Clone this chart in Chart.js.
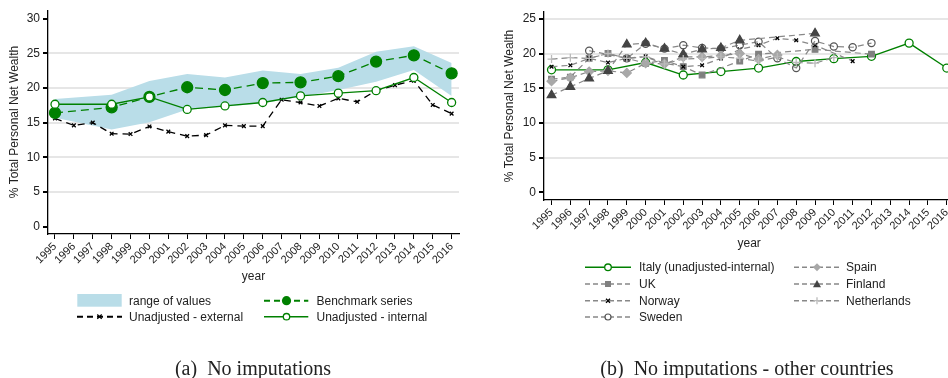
<!DOCTYPE html>
<html>
<head>
<meta charset="utf-8">
<script src="https://cdn.jsdelivr.net/npm/chart.js@4.4.1/dist/chart.umd.min.js"></script>
<style>
  html, body { margin: 0; padding: 0; background: #fff; }
  body { width: 948px; height: 378px; position: relative; overflow: hidden;
         font-family: "Liberation Sans", Arial, sans-serif; color: #222; }
  .box { position: absolute; }
  #left-box { left: 0; top: 0; width: 480px; height: 290px; }
  #right-box { left: 490px; top: 0; width: 480px; height: 260px; }
  svg { position: absolute; left: 0; top: 0; }
  .lg { position: absolute; font-size: 12px; line-height: 14px; white-space: nowrap; transform: translateY(-50%); }
  .cap { position: absolute; top: 356px; font-family: "Liberation Serif", "Times New Roman", serif;
         font-size: 20px; line-height: 24px; white-space: nowrap; transform: translateX(-50%); }
</style>
</head>
<body>
<div class="box" id="left-box"><canvas id="left-chart"></canvas></div>
<div class="box" id="right-box"><canvas id="right-chart"></canvas></div>

<svg width="948" height="378">
  <!-- left legend -->
  <rect x="77.3" y="294" width="44.4" height="12.7" fill="#b9dde8"/>
  <line x1="264" y1="300.7" x2="308.3" y2="300.7" stroke="#008000" stroke-width="2" stroke-dasharray="6 4"/>
  <circle cx="286.5" cy="300.7" r="4.6" fill="#008000"/>
  <line x1="77" y1="316.7" x2="122" y2="316.7" stroke="#000" stroke-width="2" stroke-dasharray="6 4"/>
  <path d="M97.3 314.5 L101.7 318.9 M101.7 314.5 L97.3 318.9" stroke="#000" stroke-width="1.3"/>
  <line x1="264" y1="316.7" x2="308.3" y2="316.7" stroke="#008000" stroke-width="1.5"/>
  <circle cx="286.5" cy="316.7" r="3.2" fill="#fff" stroke="#008000" stroke-width="1.3"/>
  <!-- right legend -->
  <line x1="585" y1="267.3" x2="631" y2="267.3" stroke="#008000" stroke-width="1.5"/>
  <circle cx="608" cy="267.3" r="3.3" fill="#fff" stroke="#008000" stroke-width="1.3"/>
  <line x1="585" y1="284" x2="631" y2="284" stroke="#888" stroke-width="1.5" stroke-dasharray="5 3"/>
  <rect x="605" y="281" width="6" height="6" fill="#808080"/>
  <line x1="585" y1="300.7" x2="631" y2="300.7" stroke="#888" stroke-width="1.5" stroke-dasharray="5 3"/>
  <path d="M606 298.7 L610 302.7 M610 298.7 L606 302.7" stroke="#000" stroke-width="1.3"/>
  <line x1="585" y1="317" x2="631" y2="317" stroke="#888" stroke-width="1.5" stroke-dasharray="5 3"/>
  <circle cx="608" cy="317" r="3" fill="#fff" stroke="#555" stroke-width="1.2"/>
  <line x1="794" y1="267.3" x2="840" y2="267.3" stroke="#888" stroke-width="1.5" stroke-dasharray="5 3"/>
  <path d="M817 263.3 L821 267.3 L817 271.3 L813 267.3 Z" fill="#a8a8a8"/>
  <line x1="794" y1="284" x2="840" y2="284" stroke="#888" stroke-width="1.5" stroke-dasharray="5 3"/>
  <path d="M817 280 L821 287.3 L813 287.3 Z" fill="#444"/>
  <line x1="794" y1="300.7" x2="840" y2="300.7" stroke="#888" stroke-width="1.5" stroke-dasharray="5 3"/>
  <path d="M817 297.2 L817 304.2 M813.5 300.7 L820.5 300.7" stroke="#bbb" stroke-width="1.3"/>
</svg>

<div class="lg" style="left:129px; top:300.7px">range of values</div>
<div class="lg" style="left:316.5px; top:300.7px">Benchmark series</div>
<div class="lg" style="left:129px; top:316.7px">Unadjusted - external</div>
<div class="lg" style="left:316.5px; top:316.7px">Unadjusted - internal</div>

<div class="lg" style="left:639px; top:267.3px">Italy (unadjusted-internal)</div>
<div class="lg" style="left:639px; top:284px">UK</div>
<div class="lg" style="left:639px; top:300.7px">Norway</div>
<div class="lg" style="left:639px; top:317px">Sweden</div>
<div class="lg" style="left:846px; top:267.3px">Spain</div>
<div class="lg" style="left:846px; top:284px">Finland</div>
<div class="lg" style="left:846px; top:300.7px">Netherlands</div>

<div class="cap" style="left:253px">(a)&nbsp;&nbsp;No imputations</div>
<div class="cap" style="left:747px">(b)&nbsp;&nbsp;No imputations - other countries</div>

<script>
  // years on the x axis
  const years = [1995, 1996, 1997, 1998, 1999, 2000, 2001, 2002, 2003, 2004, 2005,
                 2006, 2007, 2008, 2009, 2010, 2011, 2012, 2013, 2014, 2015, 2016];
  const yTicksLeft = [0, 5, 10, 15, 20, 25, 30];
  const yTicksRight = [0, 5, 10, 15, 20, 25];

  // panel (a)
  const benchYears = [1995, 1998, 2000, 2002, 2004, 2006, 2008, 2010, 2012, 2014, 2016];
  const benchmark = [16.4, 17.2, 18.7, 20.1, 19.7, 20.7, 20.8, 21.7, 23.8, 24.7, 22.1];
  const internal = [17.65, 17.65, 18.7, 16.9, 17.4, 17.9, 18.85, 19.25, 19.6, 21.5, 17.9];
  const rangeLow = [15.7, 14.0, 15.05, 16.9, 17.3, 17.8, 18.7, 19.7, 20.9, 22.6, 18.85];
  const rangeHigh = [18.4, 19.0, 21.0, 22.0, 21.5, 22.5, 22.0, 22.9, 25.2, 26.0, 23.6];
  const external = [15.6, 14.6, 15.0, 13.4, 13.35, 14.45, 13.7, 13.05, 13.2, 14.6, 14.5,
                    14.5, 18.3, 17.9, 17.4, 18.5, 18.0, 19.6, 20.4, 21.05, 17.55, 16.3];

  // panel (b), one value per year, null = no data
  const uk = [16.3, 16.6, 19.3, 20.0, 19.3, 18.6, 19.0, 18.1, 16.9, null, 18.9,
              19.9, null, null, 20.6, null, null, 19.9, null, null, null, null];
  const norway = [18.1, 18.3, 19.3, 18.7, 19.3, 19.6, 18.6, 18.1, 18.3, 19.3, 20.6,
                  21.2, 22.2, 21.9, 21.2, null, 18.9, null, null, null, null, null];
  const sweden = [null, null, 20.4, null, 19.3, 21.4, 20.7, 21.2, 20.8, 20.7, 21.2,
                  21.7, 19.3, 17.9, 21.8, 21.0, 20.9, 21.5, null, null, null, null];
  const spain = [16.0, 16.5, 17.4, 17.5, 17.2, 18.6, 18.5, 19.5, 19.5, 19.7, 20.0,
                 19.2, 19.8, null, null, null, null, null, null, null, null, null];
  const finland = [14.0, 15.2, 16.4, 17.5, 21.3, 21.5, 20.7, 19.9, 20.6, 20.8, 21.9,
                   null, null, null, 22.9, null, null, null, null, null, null, null];
  const netherlands = [19.2, 19.4, 19.3, 20.0, 19.3, 19.5, 18.5, 19.2, 19.3, 19.5, 19.3,
                       18.9, 19.5, 18.7, 18.6, 19.4, null, null, null, null, null, null];

  Chart.defaults.font.family = '"Liberation Sans", Arial, sans-serif';
  Chart.defaults.color = '#222';

  const pts = (xs, ys) => xs.map((x, i) => ({ x, y: ys[i] }));

  function xAxis(min, max, height, padBottom) {
    return {
      type: 'linear', min, max,
      afterBuildTicks: (s) => { s.ticks = years.map((v) => ({ value: v })); },
      afterFit: (s) => { s.height = height; },
      ticks: { autoSkip: false, minRotation: 45, maxRotation: 45, padding: 1, font: { size: 11 },
               callback: (v) => String(v) },
      grid: { drawOnChartArea: false, tickColor: '#000', tickLength: 5 },
      border: { color: '#000', width: 1.3 },
      title: { display: true, text: 'year', font: { size: 12 }, padding: { top: 4, bottom: padBottom } },
    };
  }

  function yAxis(min, max, ticks, width, padTop) {
    return {
      min, max,
      afterBuildTicks: (s) => { s.ticks = ticks.map((v) => ({ value: v })); },
      afterFit: (s) => { s.width = width; },
      ticks: { padding: 3, font: { size: 12 } },
      grid: {
        color: (c) => (c.tick && c.tick.value >= 5 && c.tick.value <= 25 ? '#e6e6e6' : 'rgba(0,0,0,0)'),
        lineWidth: 2, tickColor: '#000', tickLength: 5,
      },
      border: { color: '#000', width: 1.3 },
      title: { display: true, text: '% Total Personal Net Wealth', font: { size: 12 }, padding: { top: padTop, bottom: 4 } },
    };
  }

  const common = {
    responsive: true,
    maintainAspectRatio: false,
    animation: false,
    plugins: { legend: { display: false }, tooltip: { enabled: false } },
  };

  new Chart(document.getElementById('left-chart'), {
    type: 'line',
    data: {
      datasets: [
        { data: pts(benchYears, rangeLow), borderWidth: 0, pointRadius: 0, fill: false, order: 10 },
        { data: pts(benchYears, rangeHigh), borderWidth: 0, pointRadius: 0, fill: 0,
          backgroundColor: '#b9dde8', order: 9 },
        { data: pts(years, external), borderColor: '#000', borderWidth: 1.3, borderDash: [7, 5],
          pointStyle: 'crossRot', pointRadius: 2.6, pointBorderColor: '#000', pointBorderWidth: 1.3, order: 3 },
        { data: pts(benchYears, benchmark), borderColor: '#008000', borderWidth: 1.3, borderDash: [8, 5],
          pointRadius: 5.5, pointBackgroundColor: '#008000', pointBorderColor: '#008000', order: 2 },
        { data: pts(benchYears, internal), borderColor: '#008000', borderWidth: 1.3,
          pointRadius: 4, pointBackgroundColor: '#fff', pointBorderColor: '#008000', pointBorderWidth: 1.3, order: 1 },
      ],
    },
    options: {
      ...common,
      layout: { padding: { top: 10, right: 21, left: 0, bottom: 0 } },
      scales: {
        x: xAxis(1994.63, 2016.39, 56, 6),
        y: yAxis(-1.05, 31.2, yTicksLeft, 48, 7),
      },
    },
  });

  const grayDash = { borderColor: '#888', borderWidth: 1.2, borderDash: [6, 4], spanGaps: true };

  new Chart(document.getElementById('right-chart'), {
    type: 'line',
    data: {
      datasets: [
        { data: pts(benchYears, internal), borderColor: '#008000', borderWidth: 1.3,
          pointRadius: 4, pointBackgroundColor: '#fff', pointBorderColor: '#008000', pointBorderWidth: 1.3, order: 10 },
        { ...grayDash, data: pts(years, uk), pointStyle: 'rect', pointRadius: 4,
          pointBackgroundColor: '#808080', pointBorderColor: '#808080', order: 6 },
        { ...grayDash, data: pts(years, norway), pointStyle: 'crossRot', pointRadius: 2.6,
          pointBorderColor: '#000', pointBorderWidth: 1.3, order: 5 },
        { ...grayDash, data: pts(years, sweden), pointStyle: 'circle', pointRadius: 3.6,
          pointBackgroundColor: 'rgba(0,0,0,0)', pointBorderColor: '#555', pointBorderWidth: 1.2, order: 4 },
        { ...grayDash, data: pts(years, spain), pointStyle: 'rectRot', pointRadius: 4.5,
          pointBackgroundColor: '#a8a8a8', pointBorderColor: '#a8a8a8', order: 3 },
        { ...grayDash, data: pts(years, finland), pointStyle: 'triangle', pointRadius: 5,
          pointBackgroundColor: '#444', pointBorderColor: '#444', order: 2 },
        { ...grayDash, data: pts(years, netherlands), pointStyle: 'cross', pointRadius: 4,
          pointBorderColor: '#bbb', pointBorderWidth: 1.3, order: 1 },
      ],
    },
    options: {
      ...common,
      layout: { padding: { top: 12, right: 15.7, left: 0, bottom: 0 } },
      scales: {
        x: xAxis(1994.6, 2016.4, 60, 9.5),
        y: yAxis(-1.11, 25.98, yTicksRight, 54, 12),
      },
    },
  });
</script>
</body>
</html>
